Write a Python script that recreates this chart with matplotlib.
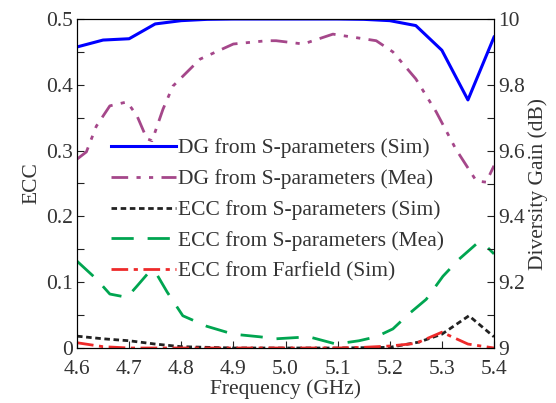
import matplotlib.pyplot as plt
from matplotlib.ticker import MultipleLocator

plt.rcParams['font.family'] = ['Liberation Serif', 'DejaVu Serif']
plt.rcParams['font.size'] = 15

# DG from S-parameters (Sim)
f_dg_sim = [4.6, 4.65, 4.7, 4.75, 4.8, 4.85, 4.9, 5.0, 5.1, 5.15, 5.2, 5.25, 5.3, 5.35, 5.4]
dg_sim = [9.915, 9.936, 9.94, 9.985, 9.995, 9.999, 10.0, 10.0, 10.0, 9.999, 9.995, 9.98, 9.905, 9.754, 9.945]

# DG from S-parameters (Mea)
f_dg_mea = [4.6, 4.618, 4.637, 4.663, 4.696, 4.715, 4.734, 4.744, 4.765, 4.784, 4.836, 4.9,
            4.964, 4.982, 5.034, 5.091, 5.141, 5.174, 5.206, 5.25, 5.289, 5.327, 5.366, 5.385, 5.4]
dg_mea = [9.574, 9.596, 9.674, 9.736, 9.748, 9.706, 9.636, 9.63, 9.726, 9.796, 9.878, 9.924,
          9.934, 9.934, 9.924, 9.954, 9.942, 9.934, 9.9, 9.818, 9.718, 9.604, 9.508, 9.504, 9.554]

# ECC from S-parameters (Sim)
f_ecc_sim = [4.6, 4.65, 4.7, 4.75, 4.8, 4.9, 5.0, 5.1, 5.2, 5.256, 5.3, 5.352, 5.4]
ecc_sim = [0.018, 0.014, 0.011, 0.006, 0.002, 0.0, 0.0, 0.0, 0.001, 0.009, 0.021, 0.049, 0.017]

# ECC from S-parameters (Mea)
f_ecc_mea = [4.6, 4.637, 4.663, 4.696, 4.715, 4.74, 4.753, 4.773, 4.803, 4.849, 4.9, 4.951,
             4.982, 5.045, 5.097, 5.141, 5.174, 5.206, 5.237, 5.27, 5.302, 5.333, 5.366, 5.381, 5.4]
ecc_mea = [0.132, 0.105, 0.082, 0.077, 0.094, 0.117, 0.112, 0.085, 0.049, 0.033, 0.021, 0.017,
           0.014, 0.017, 0.006, 0.011, 0.017, 0.029, 0.052, 0.074, 0.109, 0.135, 0.158, 0.158, 0.143]

# ECC from Farfield (Sim)
f_ecc_ff = [4.6, 4.65, 4.7, 4.8, 4.9, 5.0, 5.1, 5.15, 5.2, 5.25, 5.3, 5.35, 5.4]
ecc_ff = [0.008, 0.002, 0.0, 0.0, 0.0, 0.0, 0.0, 0.001, 0.003, 0.007, 0.024, 0.006, 0.0]

fig = plt.figure(figsize=(5.56, 4.03), dpi=100)
ax1 = fig.add_axes([77/556, 1-348/403, 417/556, 329/403])
ax2 = ax1.twinx()

l3, = ax1.plot(f_ecc_sim, ecc_sim, color='#222222', lw=2, ls=(0, (2, 1.3)))
l4, = ax1.plot(f_ecc_mea, ecc_mea, color='#00a550', lw=2, ls=(0, (8, 5)))
l5, = ax1.plot(f_ecc_ff, ecc_ff, color='#ee2a2a', lw=2, ls=(0, (6, 2, 1.5, 2)))
l1, = ax2.plot(f_dg_sim, dg_sim, color='#0000ff', lw=2.2)
l2, = ax2.plot(f_dg_mea, dg_mea, color='#a5478a', lw=2,
               ls=(0, (6, 3, 1.5, 3, 1.5, 3)))

ax1.set_xlim(4.6, 5.4)
ax1.set_ylim(0, 0.5)
ax2.set_ylim(9, 10)

ax1.yaxis.set_minor_locator(MultipleLocator(0.05))
ax2.yaxis.set_minor_locator(MultipleLocator(0.1))
ax1.set_xticks([4.6, 4.7, 4.8, 4.9, 5.0, 5.1, 5.2, 5.3, 5.4])
ax1.set_xticklabels(['4.6', '4.7', '4.8', '4.9', '5.0', '5.1', '5.2', '5.3', '5.4'])
ax1.set_yticks([0, 0.1, 0.2, 0.3, 0.4, 0.5])
ax1.set_yticklabels(['0', '0.1', '0.2', '0.3', '0.4', '0.5'])
ax2.set_yticks([9, 9.2, 9.4, 9.6, 9.8, 10])
ax2.set_yticklabels(['9', '9.2', '9.4', '9.6', '9.8', '10'])

for ax in (ax1, ax2):
    ax.tick_params(which='both', direction='in', length=5, width=0.8, colors='#222222',
                   labelsize=15.5, pad=3, labelcolor='#333333')
ax1.tick_params(axis='x', pad=8.5)

ax1.set_xlabel('Frequency (GHz)', fontsize=15.5, color='#333333', labelpad=0)
ax1.set_ylabel('ECC', fontsize=15.5, color='#333333', labelpad=3)
ax2.set_ylabel('Diversity Gain (dB)', fontsize=15.5, color='#333333', labelpad=2)

leg = ax2.legend([l1, l2, l3, l4, l5],
                 ['DG from S-parameters (Sim)', 'DG from S-parameters (Mea)',
                  'ECC from S-parameters (Sim)', 'ECC from S-parameters (Mea)',
                  'ECC from Farfield (Sim)'],
                 loc='upper left', bbox_to_anchor=(0.082, 0.637), frameon=False,
                 fontsize=15.5, handlelength=3.0, handletextpad=0.1, labelspacing=0.5,
                 borderaxespad=0, borderpad=0)
for t in leg.get_texts():
    t.set_color('#333333')

fig.savefig('out.png', dpi=100)
